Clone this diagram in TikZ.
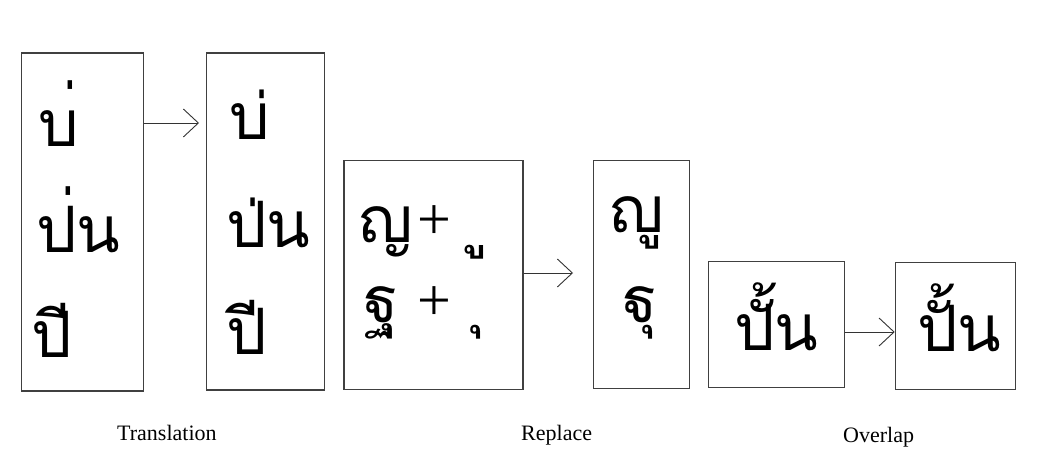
\documentclass[tikz,border=0pt]{standalone}
\usepackage{fontspec}
\usetikzlibrary{arrows.meta}
\setmainfont{Liberation Serif}
\newfontfamily\thai[Script=Thai]{Loma}
\newfontfamily\thairaw[Script=Thai,RawFeature={-mark;-mkmk;-ccmp}]{Loma}
\tikzset{
  frame/.style={draw=black!75, line width=1.3pt, inner sep=0pt, anchor=north west},
  th/.style={inner sep=0pt, anchor=base west, font=\thai\fontsize{64}{64}\selectfont},
  thraw/.style={inner sep=0pt, anchor=base west, font=\thairaw\fontsize{64}{64}\selectfont},
  plus/.style={inner sep=0pt, anchor=base west, font=\fontsize{60}{60}\selectfont},
  lbl/.style={inner sep=0pt, anchor=base west, font=\fontsize{22}{22}\selectfont},
  arr/.style={draw=black!80, line width=0.9pt, -{Straight Barb[length=15pt,width=28pt]}}
}
% a lone below-vowel is carried on a no-break space
\newcommand\lonemark[1]{^^^^00a0#1}
\begin{document}
\begin{tikzpicture}[x=1pt,y=-1pt]
\useasboundingbox[fill=white] (0,0) rectangle (1053,473);

% boxes
\node[frame, minimum width=122pt, minimum height=338pt] (b1) at (20.5,52.3) {};
\node[frame, minimum width=118pt, minimum height=337pt] (b2) at (205.7,52.3) {};
\node[frame, minimum width=179pt, minimum height=229pt] (b3) at (343.3,160) {};
\node[frame, minimum width=96pt, minimum height=228pt] (b4) at (592.7,160) {};
\node[frame, minimum width=136pt, minimum height=126pt] (b5) at (707.7,261) {};
\node[frame, minimum width=120pt, minimum height=127pt] (b6) at (894.7,262) {};

% translation: marks unadjusted, then adjusted
\node[thraw] (t1a) at (38,147) {บ่};
\node[thraw] (t1b) at (36,253) {ป่น};
\node[thraw] (t1c) at (31,357) {ปี};
\node[th] (t2a) at (229,140) {บ่};
\node[th] (t2b) at (226,248) {ป่น};
\node[th] (t2c) at (226,355) {ปี};

% replace: base + below vowel
\node[th] (r1a) at (358,243) {ญ};
\node[plus] (r1p) at (417,240) {+};
\node[th] (r1m) at (471,243) {\lonemark{ู}};
\node[th] (r2a) at (363,323) {ฐ};
\node[plus] (r2p) at (417,320) {+};
\node[th] (r2m) at (468,323) {\lonemark{ุ}};
\node[th] (r3a) at (609,233) {ญู};
\node[th] (r3b) at (622,323) {ฐุ};

% overlap
\node[thraw] (o1) at (734,350) {ปั้น};
\node[th] (o2) at (917,352) {ปั้น};

% arrows
\coordinate (e1) at (199,123);
\coordinate (e2) at (573,273);
\draw[arr] (b1.east |- e1) -- (e1);
\draw[arr] (b3.east |- e2) -- (e2);
\draw[arr] (b5.east |- 0,332) -- (b6.west |- 0,332);

% captions
\node[lbl] (c1) at (117,440) {Translation};
\node[lbl] (c2) at (521,440) {Replace};
\node[lbl] (c3) at (843,442) {Overlap};
\end{tikzpicture}
\end{document}
